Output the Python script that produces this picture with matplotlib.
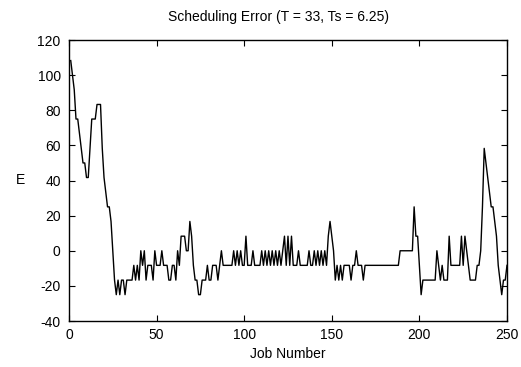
import numpy as np
import matplotlib

matplotlib.use("Agg")
import matplotlib.pyplot as plt

plt.rcParams["font.family"] = ["Liberation Sans", "DejaVu Sans"]
plt.rcParams["axes.unicode_minus"] = False

TITLE = "Scheduling Error (T = 33, Ts = 6.25)"

# scheduling error per job (jobs 1..250)
jobs = np.arange(1, 251)
error = [
    108.3, 100, 91.7, 75, 75, 66.7, 58.3, 50, 50, 41.7,
    41.7, 58.3, 75, 75, 75, 83.3, 83.3, 83.3, 58.3, 41.7,
    33.3, 25, 25, 16.7, 0, -16.7, -25, -16.7, -25, -16.7,
    -16.7, -25, -16.7, -16.7, -16.7, -16.7, -8.3, -16.7, -8.3, -16.7,
    0, -8.3, 0, -16.7, -8.3, -8.3, -8.3, -16.7, 0, -8.3,
    -8.3, -8.3, 0, -8.3, -8.3, -8.3, -16.7, -16.7, -8.3, -8.3,
    -16.7, 0, -8.3, 8.3, 8.3, 8.3, 0, 0, 16.7, 8.3,
    -8.3, -16.7, -16.7, -25, -25, -16.7, -16.7, -16.7, -8.3, -16.7,
    -16.7, -8.3, -8.3, -8.3, -16.7, -8.3, 0, -8.3, -8.3, -8.3,
    -8.3, -8.3, -8.3, 0, -8.3, 0, -8.3, 0, -8.3, -8.3,
    8.3, -8.3, -8.3, -8.3, 0, -8.3, -8.3, -8.3, -8.3, 0,
    -8.3, 0, -8.3, 0, -8.3, 0, -8.3, 0, -8.3, 0,
    -8.3, 0, 8.3, -8.3, 8.3, -8.3, 8.3, -8.3, -8.3, -8.3,
    0, -8.3, -8.3, -8.3, -8.3, -8.3, 0, -8.3, -8.3, 0,
    -8.3, 0, -8.3, 0, -8.3, 0, -8.3, 8.3, 16.7, 8.3,
    0, -16.7, -8.3, -16.7, -8.3, -16.7, -8.3, -8.3, -8.3, -8.3,
    -16.7, -8.3, -8.3, 0, -8.3, -8.3, -8.3, -16.7, -8.3, -8.3,
    -8.3, -8.3, -8.3, -8.3, -8.3, -8.3, -8.3, -8.3, -8.3, -8.3,
    -8.3, -8.3, -8.3, -8.3, -8.3, -8.3, -8.3, -8.3, 0, 0,
    0, 0, 0, 0, 0, 0, 25, 8.3, 8.3, -8.3,
    -25, -16.7, -16.7, -16.7, -16.7, -16.7, -16.7, -16.7, -16.7, 0,
    -8.3, -16.7, -8.3, -16.7, -16.7, -16.7, 8.3, -8.3, -8.3, -8.3,
    -8.3, -8.3, -8.3, 8.3, -8.3, 8.3, 0, -8.3, -16.7, -16.7,
    -16.7, -16.7, -8.3, -8.3, 0, 25, 58.3, 50, 41.7, 33.3,
    25, 25, 16.7, 8.3, -8.3, -16.7, -25, -16.7, -16.7, -8.3,
]

x_ticks = [0, 50, 100, 150, 200, 250]
y_ticks = [-40, -20, 0, 20, 40, 60, 80, 100, 120]

fig = plt.figure(figsize=(5.21, 3.67), dpi=100)
ax = fig.add_axes([0.1324, 0.1253, 0.8407, 0.7657])

ax.plot(jobs, error, color="black", lw=1.0)

ax.set_xlim(0, 250)
ax.set_ylim(-40, 120)
ax.set_xticks(x_ticks)
ax.set_yticks(y_ticks)
ax.tick_params(direction="in", length=4, width=0.8, labelsize=10,
               top=True, right=True)
ax.tick_params(axis="x", pad=5)
ax.tick_params(axis="y", pad=6)
for s in ax.spines.values():
    s.set_linewidth(1.0)

fig.text(0.534, 0.954, TITLE, ha="center", va="center", fontsize=10)
fig.text(0.552, 0.035, "Job Number", ha="center", va="center", fontsize=10)
fig.text(0.040, 0.51, "E", ha="center", va="center", fontsize=10)

fig.savefig("out.png", dpi=100)
